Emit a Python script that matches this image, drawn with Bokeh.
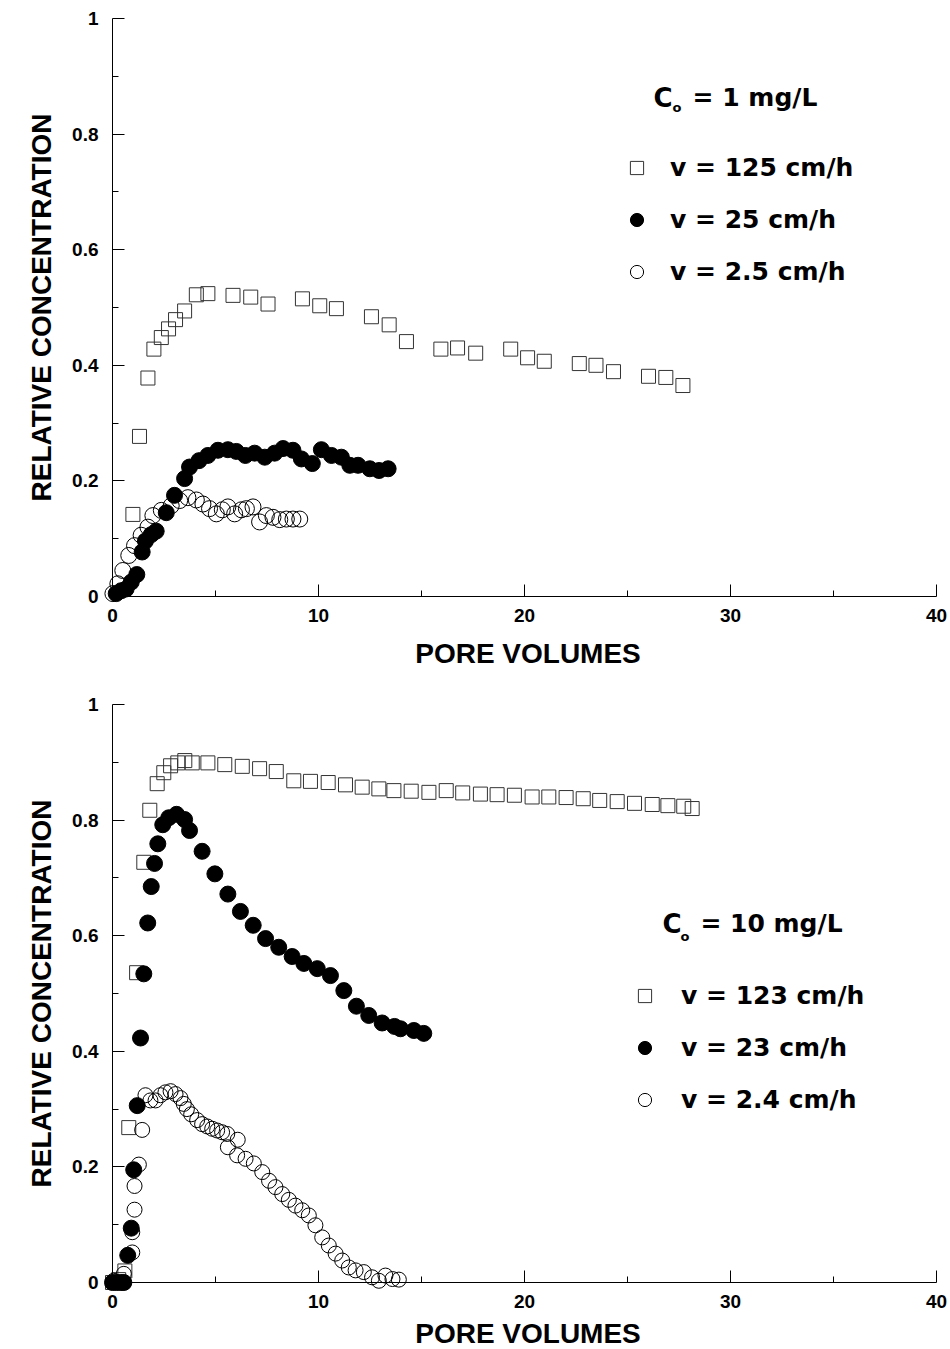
from bokeh.plotting import figure
from bokeh.models import (Range1d, FixedTicker, CustomJSTickFormatter, Legend, LegendItem, Label)
from bokeh.layouts import column
from bokeh.embed import file_html
from bokeh.resources import INLINE

# ---------------- data ----------------
x_ticks = [0, 10, 20, 30, 40]
x_minor = [5, 15, 25, 35]
y_ticks = [0, 0.2, 0.4, 0.6, 0.8, 1]
y_minor = [0.1, 0.3, 0.5, 0.7, 0.9]

# Panel 1: C0 = 1 mg/L
a_sq_x = [0.99, 1.31, 1.72, 2.01, 2.37, 2.72, 3.06, 3.5, 4.07, 4.63, 5.85, 6.71, 7.55, 9.22, 10.06, 10.87,
          12.57, 13.43, 14.27, 15.94, 16.75, 17.63, 19.33, 20.15, 20.96, 22.66, 23.47, 24.32, 26.02, 26.86, 27.69]
a_sq_y = [0.142, 0.277, 0.378, 0.428, 0.448, 0.463, 0.479, 0.494, 0.522, 0.524, 0.521, 0.518, 0.506, 0.515,
          0.503, 0.498, 0.484, 0.47, 0.441, 0.428, 0.43, 0.421, 0.428, 0.413, 0.407, 0.403, 0.4, 0.389, 0.381,
          0.379, 0.365]
a_fc_x = [0.18, 0.42, 0.66, 0.91, 1.18, 1.44, 1.6, 1.88, 2.12, 2.61, 3.01, 3.5, 3.74, 4.2, 4.63, 5.12, 5.6,
          6.01, 6.45, 6.9, 7.39, 7.87, 8.28, 8.76, 9.17, 9.7, 10.14, 10.63, 11.11, 11.52, 11.92, 12.49, 12.94, 13.38]
a_fc_y = [0.005, 0.01, 0.013, 0.025, 0.038, 0.077, 0.096, 0.107, 0.113, 0.145, 0.175, 0.204, 0.224, 0.235,
          0.244, 0.253, 0.254, 0.251, 0.244, 0.248, 0.241, 0.248, 0.256, 0.253, 0.238, 0.23, 0.254, 0.244,
          0.241, 0.227, 0.227, 0.221, 0.218, 0.221]
a_oc_x = [0.02, 0.26, 0.5, 0.79, 1.07, 1.39, 1.72, 1.96, 2.37, 2.85, 3.26, 3.66, 4.07, 4.39, 4.71, 5.04, 5.33,
          5.6, 5.93, 6.26, 6.5, 6.82, 7.14, 7.47, 7.79, 8.12, 8.44, 8.76, 9.09]
a_oc_y = [0.005, 0.022, 0.045, 0.071, 0.088, 0.106, 0.12, 0.14, 0.149, 0.157, 0.166, 0.171, 0.167, 0.16,
          0.152, 0.143, 0.15, 0.155, 0.143, 0.15, 0.152, 0.155, 0.129, 0.14, 0.137, 0.133, 0.134, 0.134, 0.134]

# Panel 2: C0 = 10 mg/L
b_sq_x = [0.0, 0.3, 0.6, 0.79, 1.17, 1.52, 1.81, 2.17, 2.49, 2.82, 3.17, 3.51, 3.87, 4.63, 5.45, 6.3, 7.14,
          7.95, 8.8, 9.61, 10.47, 11.31, 12.12, 12.93, 13.66, 14.5, 15.36, 16.2, 17.0, 17.86, 18.67, 19.51,
          20.37, 21.18, 22.02, 22.85, 23.65, 24.5, 25.34, 26.2, 26.96, 27.73, 28.14]
b_sq_y = [0.0, 0.005, 0.02, 0.268, 0.536, 0.727, 0.817, 0.863, 0.882, 0.894, 0.899, 0.903, 0.899, 0.899,
          0.896, 0.893, 0.889, 0.884, 0.868, 0.867, 0.865, 0.861, 0.857, 0.854, 0.851, 0.85, 0.848, 0.851,
          0.847, 0.845, 0.844, 0.843, 0.84, 0.84, 0.839, 0.837, 0.834, 0.832, 0.829, 0.827, 0.825, 0.824, 0.82]
b_fc_x = [0.0, 0.2, 0.4, 0.55, 0.74, 0.91, 1.03, 1.2, 1.36, 1.52, 1.71, 1.88, 2.04, 2.2, 2.44, 2.73, 3.11,
          3.5, 3.74, 4.35, 4.97, 5.6, 6.21, 6.83, 7.43, 8.07, 8.72, 9.29, 9.94, 10.58, 11.23, 11.84, 12.44,
          13.09, 13.69, 13.98, 14.63, 15.11]
b_fc_y = [0.0, 0.0, 0.0, 0.0, 0.047, 0.094, 0.195, 0.306, 0.423, 0.534, 0.622, 0.685, 0.725, 0.759, 0.792,
          0.804, 0.81, 0.801, 0.782, 0.746, 0.707, 0.672, 0.642, 0.618, 0.595, 0.58, 0.564, 0.552, 0.543,
          0.531, 0.505, 0.478, 0.462, 0.449, 0.443, 0.439, 0.436, 0.431]
b_oc_x = [0.06, 0.55, 0.96, 0.96, 1.07, 1.07, 1.28, 1.44, 1.6, 1.84, 2.09, 2.33, 2.57, 2.82, 3.06, 3.3, 3.46,
          3.61, 3.82, 4.11, 4.35, 4.6, 4.84, 5.08, 5.32, 5.57, 5.6, 6.08, 6.05, 6.46, 6.86, 7.27, 7.6, 7.91,
          8.24, 8.56, 8.88, 9.21, 9.53, 9.85, 10.18, 10.5, 10.83, 11.15, 11.47, 11.8, 12.2, 12.6, 12.93,
          13.25, 13.59, 13.9]
b_oc_y = [0.003, 0.015, 0.052, 0.087, 0.126, 0.167, 0.204, 0.264, 0.324, 0.315, 0.315, 0.324, 0.329, 0.331,
          0.326, 0.319, 0.309, 0.3, 0.291, 0.281, 0.274, 0.27, 0.266, 0.263, 0.26, 0.257, 0.234, 0.247, 0.22,
          0.214, 0.206, 0.191, 0.176, 0.165, 0.153, 0.143, 0.133, 0.125, 0.116, 0.099, 0.078, 0.064, 0.05,
          0.038, 0.026, 0.021, 0.018, 0.009, 0.003, 0.012, 0.006, 0.005]

labels_a = ["v = 125 cm/h", "v = 25 cm/h", "v = 2.5 cm/h"]
labels_b = ["v = 123 cm/h", "v = 23 cm/h", "v = 2.4 cm/h"]
conc_a = "= 1 mg/L"
conc_b = "= 10 mg/L"
x_title = "PORE VOLUMES"
y_title = "RELATIVE CONCENTRATION"

FONT = "Liberation Sans"
LFONT = "DejaVu Sans"
PY = 578.0   # pixels per unit of relative concentration
PX = 20.6    # pixels per pore volume
LEFT = 112   # pixels left of x = 0
WIDTH = 948


def make(height, top, below_px, sq, fc, oc, labels, conc, legend_loc, standoff, conc_pos, xlab_px, sizes):
    p = figure(width=WIDTH, height=height, output_backend="svg", toolbar_location=None,
               x_range=Range1d(-LEFT / PX, (WIDTH - LEFT) / PX),
               y_range=Range1d(-below_px / PY, 1 + top / PY),
               min_border_left=0, min_border_right=0, min_border_top=0, min_border_bottom=0)
    p.outline_line_color = None
    p.grid.visible = False
    p.background_fill_color = "white"
    p.xaxis.fixed_location = 0
    p.yaxis.fixed_location = 0
    p.xaxis.bounds = (0, 40)
    p.yaxis.bounds = (0, 1)
    for ax in (p.xaxis[0], p.yaxis[0]):
        ax.axis_line_color = "black"
        ax.axis_line_width = 1
        ax.major_tick_in = 12
        ax.major_tick_out = 0
        ax.minor_tick_in = 6
        ax.minor_tick_out = 0
        ax.major_tick_line_color = "black"
        ax.minor_tick_line_color = "black"
        ax.major_label_text_font = FONT
        ax.major_label_text_font_style = "bold"
        ax.major_label_text_font_size = "19px"
        ax.major_label_text_color = "black"
        ax.axis_label_text_font = FONT
        ax.axis_label_text_font_style = "bold"
        ax.axis_label_text_font_size = "28px"
        ax.axis_label_text_color = "black"
    p.xaxis.ticker = FixedTicker(ticks=x_ticks, minor_ticks=x_minor)
    p.yaxis.ticker = FixedTicker(ticks=y_ticks, minor_ticks=y_minor)
    p.yaxis.formatter = CustomJSTickFormatter(
        code="return (tick == 0) ? '0' : ((tick == 1) ? '1' : tick.toFixed(1));")
    p.yaxis.axis_label = y_title
    p.xaxis.major_label_standoff = 12
    p.yaxis.major_label_standoff = 14
    p.yaxis.axis_label_standoff = 12

    # x-axis title, drawn below the axis line
    p.add_layout(Label(x=20.17, y=-xlab_px / PY, text=x_title, text_font=FONT,
                       text_font_style="bold", text_font_size="28px", text_align="center",
                       text_baseline="middle", text_color="black"))

    r_sq = p.scatter(sq[0], sq[1], marker="square", size=sizes[0], fill_color=None,
                     line_color="#333333", line_width=1)
    r_oc = p.scatter(oc[0], oc[1], marker="circle", size=sizes[2], fill_color=None,
                     line_color="black", line_width=1)
    r_fc = p.scatter(fc[0], fc[1], marker="circle", size=sizes[1], fill_color="black",
                     line_color="black", line_width=1)

    leg = Legend(items=[LegendItem(label=labels[0], renderers=[r_sq]),
                        LegendItem(label=labels[1], renderers=[r_fc]),
                        LegendItem(label=labels[2], renderers=[r_oc])],
                 location=(legend_loc[0] + LEFT, legend_loc[1] + below_px))
    leg.border_line_color = None
    leg.background_fill_alpha = 0
    leg.padding = 0
    leg.margin = 0
    leg.glyph_width = 33
    leg.glyph_height = 33
    leg.label_height = 33
    leg.spacing = 19
    leg.label_standoff = standoff
    leg.label_text_font = LFONT
    leg.label_text_font_style = "bold"
    leg.label_text_font_size = "25px"
    leg.label_text_color = "black"
    p.add_layout(leg)

    cx, cy, sx, sy, ex = conc_pos
    p.add_layout(Label(x=cx, y=cy, text="C", text_font=LFONT, text_font_style="bold",
                       text_font_size="26px", text_baseline="middle", text_align="left", text_color="black"))
    p.add_layout(Label(x=sx, y=sy, text="o", text_font=LFONT, text_font_style="bold",
                       text_font_size="13px", text_baseline="middle", text_align="left", text_color="black"))
    p.add_layout(Label(x=ex, y=cy, text=conc, text_font=LFONT, text_font_style="bold",
                       text_font_size="25px", text_baseline="middle", text_align="left", text_color="black"))
    return p


p1 = make(674, 18, 78, (a_sq_x, a_sq_y), (a_fc_x, a_fc_y), (a_oc_x, a_oc_y), labels_a, conc_a,
          (508, 308), 17, (26.26, 0.863, 27.18, 0.846, 28.16), 56.5, (14, 16, 16))
p2 = make(675, 30, 67, (b_sq_x, b_sq_y), (b_fc_x, b_fc_y), (b_oc_x, b_oc_y), labels_b, conc_b,
          (516, 166), 20, (26.7, 0.621, 27.57, 0.599, 28.54), 51, (14, 16, 15))

layout = column(p1, p2, spacing=0)
open("out.html", "w").write(file_html(layout, INLINE))
